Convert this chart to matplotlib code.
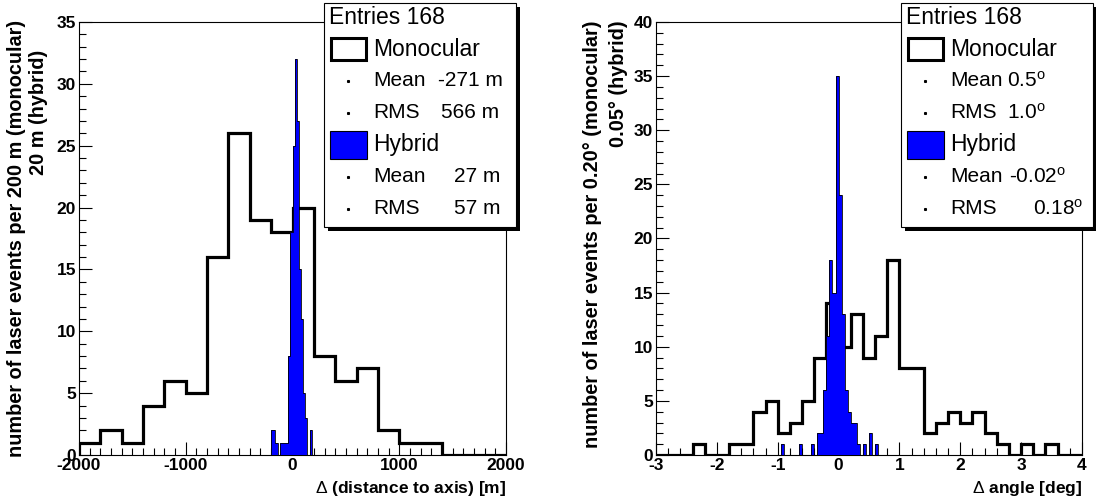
import matplotlib
matplotlib.use('Agg')
import matplotlib.pyplot as plt
import numpy as np
from matplotlib.patches import Rectangle
from matplotlib.lines import Line2D

plt.rcParams['font.family'] = ['Liberation Sans', 'DejaVu Sans']
plt.rcParams['mathtext.fontset'] = 'custom'
plt.rcParams['mathtext.rm'] = 'Liberation Sans'
plt.rcParams['mathtext.it'] = 'Liberation Sans:italic'
plt.rcParams['mathtext.bf'] = 'Liberation Sans:bold'
plt.rcParams['axes.unicode_minus'] = False

# ---------------- data ----------------
# Left: distance to axis [m]
dist_mono_edges = np.arange(-2000, 2001, 200)
dist_mono_counts = [1, 2, 1, 4, 6, 5, 16, 26, 19, 18, 20, 8, 6, 7, 2, 1, 1, 0, 0, 0]
dist_hyb_edges = np.arange(-200, 201, 20)
dist_hyb_counts = [2, 2, 1, 0, 1, 1, 1, 1, 8, 18, 25, 32, 27, 15, 11, 5, 3, 0, 2, 0]

# Right: angle [deg]
ang_mono_edges = np.round(np.arange(-3.0, 4.0001, 0.2), 3)
ang_mono_counts = [0, 0, 0, 1, 0, 0, 1, 1, 4, 5, 2, 3, 5, 9, 14, 10, 13, 9, 11, 18,
                   8, 8, 2, 3, 4, 3, 4, 2, 1, 0, 1, 0, 1, 0, 0]
ang_hyb_edges = np.round(np.arange(-0.95, 0.6501, 0.05), 3)
ang_hyb_counts = [1, 0, 0, 0, 0, 0, 1, 0, 0, 0, 1, 0, 2, 2, 6, 11, 18, 15, 35, 24,
                  13, 6, 4, 3, 3, 1, 0, 1, 0, 2, 0, 1]

legend_left = {"entries": "Entries 168", "mono_mean": "-271 m", "mono_rms": "566 m",
               "hyb_mean": "27 m", "hyb_rms": "57 m"}
legend_right = {"entries": "Entries 168", "mono_mean": r"0.5$^{\mathrm{o}}$",
                "mono_rms": r"1.0$^{\mathrm{o}}$", "hyb_mean": r"-0.02$^{\mathrm{o}}$",
                "hyb_rms": r"0.18$^{\mathrm{o}}$"}

BLUE = '#0000ff'
W, H = 1096, 501
fig = plt.figure(figsize=(W / 100, H / 100), dpi=100)


def fx(px):
    return px / W


def fy(py):
    return 1 - py / H


def make_axes(x0, x1, y0, y1):
    return fig.add_axes([fx(x0), fy(y1), fx(x1) - fx(x0), fy(y0) - fy(y1)])


axL = make_axes(79, 506, 22, 455)
axR = make_axes(656, 1082, 22, 455)

for ax in (axL, axR):
    for s in ax.spines.values():
        s.set_linewidth(0.8)
    ax.tick_params(which='both', direction='in', top=False, right=False, width=0.8)
    ax.tick_params(which='major', length=9.5, labelsize=12.5, pad=2)
    ax.tick_params(which='minor', length=4.8)

# left histogram
axL.stairs(dist_mono_counts, dist_mono_edges, baseline=0, color='black', linewidth=2.3, zorder=2)
axL.stairs(dist_hyb_counts, dist_hyb_edges, baseline=0, fill=True, color=BLUE, zorder=3)
axL.stairs(dist_hyb_counts, dist_hyb_edges, baseline=0, color='black', linewidth=0.6, zorder=3)
axL.set_xlim(-2000, 2000)
axL.set_ylim(0, 35)
axL.set_xticks([-2000, -1000, 0, 1000, 2000])
axL.set_xticks(np.arange(-2000, 2001, 100), minor=True)
axL.set_yticks(np.arange(0, 36, 5))
axL.set_yticks(np.arange(0, 36, 1), minor=True)

# right histogram
axR.stairs(ang_mono_counts, ang_mono_edges, baseline=0, color='black', linewidth=2.3, zorder=2)
axR.stairs(ang_hyb_counts, ang_hyb_edges, baseline=0, fill=True, color=BLUE, zorder=3)
axR.stairs(ang_hyb_counts, ang_hyb_edges, baseline=0, color='black', linewidth=0.6, zorder=3)
axR.set_xlim(-3, 4)
axR.set_ylim(0, 40)
axR.set_xticks(np.arange(-3, 5, 1))
axR.set_xticks(np.arange(-3, 4.01, 0.2), minor=True)
axR.set_yticks(np.arange(0, 41, 5))
axR.set_yticks(np.arange(0, 41, 1), minor=True)

for ax in (axL, axR):
    for lab in ax.get_xticklabels() + ax.get_yticklabels():
        lab.set_fontweight('bold')

# axis titles
fig.text(fx(506), fy(488), r"$\Delta$ (distance to axis) [m]", ha='right', va='center',
         fontsize=12.5, fontweight='bold')
fig.text(fx(1082), fy(488), r"$\Delta$ angle [deg]", ha='right', va='center',
         fontsize=12.5, fontweight='bold')

fig.text(fx(17), fy(20), "number of laser events per 200 m (monocular)", rotation=90,
         ha='center', va='top', fontsize=14.3, fontweight='bold')
fig.text(fx(38), fy(50), "20 m (hybrid)", rotation=90,
         ha='center', va='top', fontsize=14.3, fontweight='bold')
fig.text(fx(592), fy(20), "number of laser events per 0.20\u00b0 (monocular)", rotation=90,
         ha='center', va='top', fontsize=14.3, fontweight='bold')
fig.text(fx(619), fy(20), "0.05\u00b0 (hybrid)", rotation=90,
         ha='center', va='top', fontsize=14.3, fontweight='bold')


def draw_legend(x0, info, val_x):
    y0, y1 = 3, 227
    w = 192
    fig.add_artist(Rectangle((fx(x0 + 4), fy(y1 + 4)), fx(w), fy(y0) - fy(y1),
                             transform=fig.transFigure, facecolor='black', edgecolor='none',
                             zorder=10))
    fig.add_artist(Rectangle((fx(x0), fy(y1)), fx(w), fy(y0) - fy(y1),
                             transform=fig.transFigure, facecolor='white', edgecolor='black',
                             linewidth=0.8, zorder=11))
    fs = 16.5
    fs2 = 15
    rows = [17, 49, 81, 113, 145, 177, 209]
    fig.text(fx(x0 + 5), fy(rows[0]), info["entries"], ha='left', va='center', fontsize=fs, zorder=12)
    # monocular box
    fig.add_artist(Rectangle((fx(x0 + 7), fy(rows[1] + 11)), fx(35), fy(0) - fy(22),
                             transform=fig.transFigure, facecolor='white', edgecolor='black',
                             linewidth=2.2, zorder=12))
    fig.text(fx(x0 + 49), fy(rows[1]), "Monocular", ha='left', va='center', fontsize=fs, zorder=12)
    # hybrid box
    fig.add_artist(Rectangle((fx(x0 + 6), fy(rows[4] + 14)), fx(37), fy(0) - fy(28),
                             transform=fig.transFigure, facecolor=BLUE, edgecolor='black',
                             linewidth=0.8, zorder=12))
    fig.text(fx(x0 + 49), fy(rows[4]), "Hybrid", ha='left', va='center', fontsize=fs, zorder=12)
    for r, lab, key, vx in [(rows[2], "Mean", "mono_mean", val_x[0]),
                            (rows[3], "RMS", "mono_rms", val_x[1]),
                            (rows[5], "Mean", "hyb_mean", val_x[2]),
                            (rows[6], "RMS", "hyb_rms", val_x[3])]:
        fig.add_artist(Line2D([fx(x0 + 24)], [fy(r)], marker='s', markersize=1.2,
                              color='black', transform=fig.transFigure, zorder=12))
        fig.text(fx(x0 + 49), fy(r), lab, ha='left', va='center', fontsize=fs2, zorder=12)
        fig.text(fx(vx), fy(r), info[key], ha='left', va='center', fontsize=fs2, zorder=12)


draw_legend(324, legend_left, [438, 441, 454, 454])
draw_legend(901, legend_right, [1007, 1007, 1009, 1033])

fig.savefig('out.png', dpi=100)
